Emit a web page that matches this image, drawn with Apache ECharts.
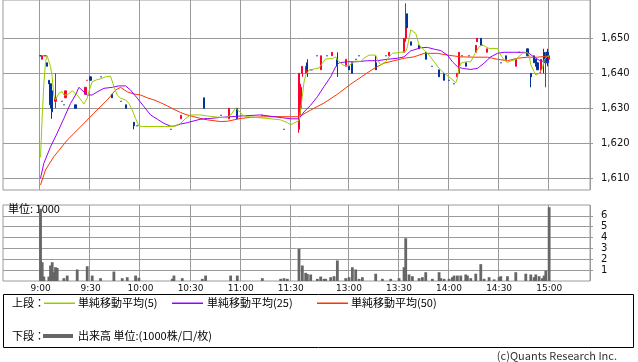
<!DOCTYPE html>
<html><head><meta charset="utf-8">
<script src="https://cdn.jsdelivr.net/npm/echarts@6/dist/echarts.min.js"></script>
<style>html,body{margin:0;padding:0;background:#fff}#c{width:638px;height:362px}</style>
</head><body><div id="c"></div>
<script>
// ---- data ----
const tickLabels = ['9:00','9:30','10:00','10:30','11:00','11:30','13:00','13:30','14:00','14:30','15:00'];
// axis slots (minutes): morning block incl. padding/lunch gap, afternoon block incl. padding
const slotRanges = [['8:38','11:34'],['12:30','15:24']];
const priceTicks = [1610,1620,1630,1640,1650];
const volumeTicks = [1,2,3,4,5,6];

// [time, open, close, low, high]
const candles = [
['9:00',1645,1645,1645,1645],['9:01',1644,1645,1644,1645],['9:02',1645,1645,1645,1645],['9:03',1645,1645,1645,1645],
['9:04',1643,1642,1642,1643],['9:05',1638,1637,1637,1638],['9:06',1637,1631,1630,1637],['9:07',1635,1629,1627,1636],
['9:09',1632,1633,1630,1640],['9:13',1632,1632,1632,1632],['9:14',1631,1631,1631,1631],['9:15',1633,1635,1633,1635],
['9:21',1631,1630,1630,1631],['9:27',1634,1636,1634,1636],['9:28',1638,1638,1638,1638],['9:30',1639,1638,1638,1639],
['9:36',1639,1639,1639,1639],['9:43',1634,1633,1633,1634],['9:48',1632,1632,1632,1632],['9:51',1631,1630,1630,1631],
['9:56',1626,1625,1624,1626],['9:58',1625,1625,1625,1625],['10:18',1624,1624,1624,1624],['10:24',1627,1628,1627,1628],
['10:36',1627,1627,1627,1627],['10:38',1633,1630,1630,1633],['10:39',1627,1627,1627,1627],['10:48',1628,1628,1628,1628],
['10:53',1627,1630,1627,1630],['10:58',1630,1627,1627,1630],['11:13',1628,1628,1628,1628],['11:26',1624,1624,1624,1624],
['12:30',1624,1640,1623,1640],['12:31',1630,1636,1628,1637],['12:32',1640,1642,1639,1642],['12:34',1640,1642,1640,1642],
['12:35',1643,1641,1639,1644],['12:37',1641,1641,1641,1641],['12:38',1641,1641,1641,1641],['12:41',1645,1645,1645,1645],
['12:43',1641,1645,1641,1645],['12:47',1645,1645,1645,1645],['12:50',1645,1646,1645,1646],['12:53',1644,1642,1639,1646],
['12:58',1642,1644,1642,1644],['13:00',1642,1641,1641,1642],['13:02',1643,1640,1640,1643],['13:04',1644,1644,1644,1644],
['13:06',1645,1645,1645,1645],['13:16',1643,1641,1641,1645],['13:22',1645,1645,1645,1645],['13:24',1645,1646,1645,1646],
['13:33',1646,1650,1646,1650],['13:34',1650,1654,1649,1660],['13:35',1657,1653,1653,1657],['13:37',1649,1648,1648,1649],
['13:42',1648,1647,1647,1648],['13:46',1646,1644,1644,1646],['13:50',1642,1642,1642,1642],['13:54',1641,1639,1639,1641],
['13:57',1640,1638,1638,1640],['14:00',1638,1638,1638,1638],['14:03',1637,1637,1637,1637],['14:05',1639,1640,1639,1640],
['14:06',1640,1646,1640,1646],['14:08',1645,1645,1645,1645],['14:10',1643,1642,1642,1643],['14:12',1645,1645,1645,1645],
['14:16',1646,1648,1646,1648],['14:17',1649,1650,1649,1650],['14:19',1650,1648,1648,1650],['14:20',1648,1648,1648,1648],
['14:23',1646,1647,1646,1647],['14:31',1643,1643,1643,1643],['14:34',1645,1644,1644,1645],['14:40',1642,1644,1642,1644],
['14:42',1646,1646,1646,1646],['14:47',1647,1645,1645,1647],['14:49',1640,1639,1636,1640],['14:51',1645,1643,1643,1645],
['14:52',1644,1642,1642,1644],['14:53',1643,1641,1641,1643],['14:55',1641,1644,1640,1644],['14:57',1646,1643,1640,1647],
['14:58',1643,1646,1636,1646],['14:59',1646,1643,1642,1647],['15:00',1644,1645,1644,1645]
];

const volumes = [
['9:00',6.65],['9:01',1.73],['9:02',0.41],['9:05',0.41],['9:06',1.43],['9:07',1.73],['9:08',0.81],['9:09',1.27],['9:10',1.2],
['9:14',0.26],['9:16',0.5],['9:22',1.06],['9:28',1.36],['9:31',0.5],['9:36',0.26],['9:44',0.87],['9:49',0.26],['9:52',0.35],
['9:57',0.5],['9:59',0.3],['10:19',0.2],['10:20',0.5],['10:25',0.26],['10:37',0.2],['10:39',0.5],['10:54',0.5],['10:58',0.5],
['11:13',0.26],['11:24',0.2],['11:26',0.26],['11:28',0.2],
['12:30',2.96],['12:32',1.43],['12:34',0.75],['12:35',0.64],['12:37',0.6],['12:41',0.2],['12:43',0.41],['12:45',0.2],['12:46',0.2],
['12:49',0.35],['12:51',0.44],['12:53',1.89],['12:58',0.26],['13:00',0.35],['13:02',1.27],['13:04',1.06],['13:06',0.2],['13:08',0.35],
['13:16',0.67],['13:20',0.2],['13:25',0.2],['13:30',0.26],['13:33',1.27],['13:34',3.94],['13:36',0.6],['13:38',0.44],['13:42',0.26],
['13:44',0.35],['13:46',0.81],['13:50',0.2],['13:54',0.81],['13:55',0.26],['13:57',0.2],['14:00',0.2],['14:02',0.35],['14:03',0.5],
['14:05',0.5],['14:07',0.5],['14:10',0.6],['14:11',0.5],['14:13',0.26],['14:16',0.67],['14:19',1.55],['14:21',0.2],['14:24',0.35],
['14:27',0.15],['14:30',0.35],['14:31',0.44],['14:35',0.44],['14:40',0.81],['14:46',0.67],['14:49',0.6],['14:51',0.35],['14:52',0.6],
['14:54',0.44],['14:56',0.26],['14:57',0.5],['14:58',0.96],['15:00',6.8]
];

const ma5 = [
['9:00',1616],['9:01',1627.6],['9:02',1637],['9:03',1643.3],['9:04',1645],['9:05',1644.9],['9:06',1641.9],['9:07',1639],['9:08',1633.5],
['9:09',1632.4],['9:11',1634.3],['9:13',1634.8],['9:14',1633.8],['9:16',1633.8],['9:19',1635],['9:20',1635.4],['9:22',1633.8],['9:25',1631.9],
['9:26',1631.2],['9:28',1632.9],['9:29',1634.8],['9:31',1637.6],['9:34',1638.2],['9:36',1638.4],['9:39',1639],['9:42',1639.2],['9:43',1639],
['9:44',1636.2],['9:46',1633.8],['9:48',1632.9],['9:51',1632.4],['9:53',1631.4],['9:55',1629.5],['9:57',1627.1],['9:59',1624.9],['10:01',1624.8],
['10:20',1624.8],['10:24',1625.7],['10:27',1627.1],['10:30',1628.1],['10:36',1628.1],['10:40',1627.8],['10:44',1627.6],['10:48',1627.4],
['10:52',1627.3],['10:54',1628.1],['10:57',1630],['10:58',1630],['11:00',1628.8],['11:01',1628.1],['11:04',1627.6],['11:16',1627.1],
['11:24',1626.7],['11:28',1625.9],['11:30',1625.3],
['12:30',1626.5],['12:31',1629.5],['12:32',1633.5],['12:33',1637.5],['12:34',1639.5],['12:36',1640.9],['12:39',1641.2],['12:42',1641.5],
['12:44',1642.9],['12:46',1644.1],['12:50',1644.2],['12:52',1644.7],['12:53',1643.8],['12:55',1642.9],['12:57',1642.2],['13:00',1642.2],
['13:02',1642.9],['13:04',1643.5],['13:07',1643.4],['13:09',1644.3],['13:12',1645.2],['13:16',1645.2],['13:17',1643.8],['13:19',1642.4],
['13:20',1642.2],['13:22',1643.3],['13:24',1644.7],['13:26',1645.7],['13:31',1646],['13:34',1646.2],['13:35',1647.6],['13:37',1652.4],
['13:38',1652.6],['13:40',1651.4],['13:42',1648.1],['13:45',1646.7],['13:48',1645.2],['13:51',1643.3],['13:54',1641.4],['13:57',1640],
['14:01',1638.6],['14:04',1637.3],['14:05',1638.6],['14:06',1641.4],['14:07',1642.9],['14:10',1643.3],['14:13',1643.3],['14:15',1645.2],
['14:18',1647.6],['14:20',1648.1],['14:22',1647.6],['14:24',1647.1],['14:29',1647.1],['14:31',1645.2],['14:33',1643.8],['14:35',1643.1],
['14:37',1643.5],['14:40',1644],['14:44',1645.7],['14:47',1645.9],['14:48',1645.2],['14:49',1642.4],['14:51',1640.5],['14:52',1639.5],
['14:54',1640],['14:56',1641.4],['14:57',1643.8],['14:59',1644.9],['15:00',1644.9]
];

const ma25 = [
['9:00',1610],['9:02',1614.3],['9:06',1619],['9:10',1622.9],['9:14',1627.1],['9:18',1631.4],['9:21',1633.8],['9:23',1636],['9:26',1634.7],
['9:28',1633.8],['9:31',1633.8],['9:34',1634.7],['9:38',1635.7],['9:43',1636],['9:47',1636.4],['9:51',1636.4],['9:54',1635.2],['9:58',1632.9],
['10:02',1630.5],['10:06',1628.1],['10:10',1626.9],['10:14',1625.7],['10:18',1624.9],['10:20',1624.9],['10:24',1625.5],['10:28',1625.9],
['10:32',1626.4],['10:36',1626.9],['10:42',1627.1],['10:48',1627.4],['11:00',1627.8],['11:12',1628.1],['11:20',1627.6],['11:25',1627.3],
['11:30',1627],
['12:30',1627],['12:33',1629],['12:37',1630.9],['12:41',1633.3],['12:45',1636.2],['12:49',1639],['12:52',1641.9],['12:54',1643],
['12:59',1643.3],['13:05',1643.3],['13:11',1643.6],['13:17',1643.6],['13:23',1644],['13:29',1644.3],['13:33',1644.7],['13:37',1646.4],
['13:43',1647.3],['13:47',1647.4],['13:51',1646.9],['13:55',1646.5],['13:59',1645.2],['14:02',1643.3],['14:05',1641.9],['14:08',1641.4],
['14:13',1641.1],['14:17',1641.4],['14:21',1642.9],['14:25',1644.7],['14:29',1645.7],['14:33',1646],['14:39',1646],['14:45',1646],
['14:48',1645.7],['14:51',1644.6],['14:55',1643.5],['14:59',1643.3],['15:00',1643.3]
];

const ma50 = [
['9:00',1608.1],['9:03',1612.4],['9:08',1616.2],['9:16',1620.9],['9:24',1624.7],['9:32',1628.6],['9:40',1632.4],['9:45',1635.2],['9:48',1636],
['9:52',1634.7],['9:56',1634.1],['10:00',1633.8],['10:04',1633],['10:08',1632.4],['10:12',1631.6],['10:16',1630.7],['10:20',1629.7],
['10:24',1628.8],['10:28',1628.1],['10:32',1627.6],['10:36',1627.1],['10:40',1626.7],['10:48',1626.2],['10:52',1626.3],['11:00',1627.1],
['11:06',1627.4],['11:16',1627.6],['11:30',1627.6],
['12:30',1627.6],['12:37',1629.5],['12:45',1631.5],['12:53',1634],['13:01',1636.9],['13:09',1639.5],['13:15',1641.4],['13:21',1642.9],
['13:27',1643.6],['13:33',1644.3],['13:39',1644.7],['13:45',1645.7],['13:53',1645.7],['13:59',1645.2],['14:07',1644.7],['14:15',1644.6],
['14:23',1644.6],['14:29',1644],['14:35',1643.6],['14:41',1644.3],['14:47',1644.6],['14:53',1644.6],['14:59',1644.9],['15:00',1644.9]
];

// ---- build axis categories ----
function toMin(t){const p=t.split(':');return (+p[0])*60+(+p[1]);}
function fmt(m){return Math.floor(m/60)+':'+String(m%60).padStart(2,'0');}
const cats=[];
slotRanges.forEach(r=>{for(let m=toMin(r[0]);m<=toMin(r[1]);m++)cats.push(fmt(m));});
const idx={}; cats.forEach((c,i)=>idx[c]=i);
const tickSet=new Set(tickLabels);

const candleData=cats.map(()=>['-','-','-','-']);
candles.forEach(c=>{candleData[idx[c[0]]]=[c[1],c[2],c[3],c[4]];});
const volData=cats.map(()=>'-');
volumes.forEach(v=>{volData[idx[v[0]]]=v[1];});
function lineData(arr){const d=cats.map(()=>null);arr.forEach(p=>{d[idx[p[0]]]=p[1];});return d;}

const gridColor='#9a9a9a';
const UP='#ff0033', DOWN='#003399';
const C5='#99cc00', C25='#9900ff', C50='#ff3300';
const jp='"Noto Sans CJK JP"';
const FT='11px '+jp;

const chart=echarts.init(document.getElementById('c'),null,{renderer:'canvas'});
const catAxisBase={type:'category',data:cats,boundaryGap:true,axisLine:{show:false},axisTick:{show:false},
  splitLine:{show:true,interval:(i,v)=>tickSet.has(v),lineStyle:{color:gridColor,width:1}}};
function txt(x,y,s,extra){return {type:'text',x:x,y:y,style:Object.assign({text:s,font:FT,fill:'#000',verticalAlign:'middle',textVerticalAlign:'middle'},extra||{})};}
function swatch(x,y,w,h,c){return {type:'rect',shape:{x:x,y:y,width:w,height:h},style:{fill:c}};}
chart.setOption({
  animation:false,
  backgroundColor:'#fff',
  grid:[
    {left:3,top:0,width:587,height:190,show:true,borderColor:gridColor,borderWidth:1,backgroundColor:'transparent'},
    {left:3,top:205,width:587,height:76,show:true,borderColor:gridColor,borderWidth:1,backgroundColor:'transparent'}
  ],
  xAxis:[
    Object.assign({},catAxisBase,{gridIndex:0,axisLabel:{show:false}}),
    Object.assign({},catAxisBase,{gridIndex:1,axisLabel:{show:true,interval:(i,v)=>tickSet.has(v),margin:3,
      fontFamily:'DejaVu Sans',fontSize:9,color:'#111'}})
  ],
  yAxis:[
    {type:'value',gridIndex:0,position:'right',min:1606.66,max:1660.94,
     axisLine:{show:false},
     axisTick:{show:true,length:3,customValues:priceTicks,lineStyle:{color:gridColor}},
     axisLabel:{customValues:priceTicks,margin:11,fontFamily:'DejaVu Sans',fontSize:10,color:'#111',
       formatter:v=>String(v).replace(/\B(?=(\d{3})+(?!\d))/g,',')},
     splitLine:{show:true,lineStyle:{color:gridColor,width:1}}},
    {type:'value',gridIndex:1,position:'right',min:0,max:7,interval:1,
     axisLine:{show:false},
     axisTick:{show:true,length:3,customValues:volumeTicks,lineStyle:{color:gridColor}},
     axisLabel:{customValues:volumeTicks,margin:11,fontFamily:'DejaVu Sans',fontSize:10,color:'#111',lineHeight:10},
     splitLine:{show:true,lineStyle:{color:gridColor,width:1}}}
  ],
  series:[
    {type:'candlestick',xAxisIndex:0,yAxisIndex:0,data:candleData,barWidth:1.6,z:2,
     itemStyle:{color:UP,color0:DOWN,borderColor:UP,borderColor0:DOWN,borderWidth:1}},
    {type:'line',xAxisIndex:0,yAxisIndex:0,data:lineData(ma50),connectNulls:true,showSymbol:false,z:3,
     lineStyle:{color:C50,width:1}},
    {type:'line',xAxisIndex:0,yAxisIndex:0,data:lineData(ma25),connectNulls:true,showSymbol:false,z:3,
     lineStyle:{color:C25,width:1}},
    {type:'line',xAxisIndex:0,yAxisIndex:0,data:lineData(ma5),connectNulls:true,showSymbol:false,z:4,
     lineStyle:{color:C5,width:1}},
    {type:'bar',xAxisIndex:1,yAxisIndex:1,data:volData,barWidth:2.8,z:2,itemStyle:{color:'#666666'}}
  ],
  graphic:[
    txt(8,209,'単位: 1000'),
    {type:'rect',shape:{x:3.5,y:294.5,width:630,height:53},style:{fill:'none',stroke:'#000',lineWidth:1}},
    txt(12,303,'上段：'),
    swatch(44,302.5,31,1.5,C5),
    txt(78,303,'単純移動平均(5)'),
    swatch(172,302.5,31,1.5,C25),
    txt(207,303,'単純移動平均(25)'),
    swatch(317,302.5,31,1.5,C50),
    txt(351,303,'単純移動平均(50)'),
    txt(12,336,'下段：'),
    swatch(43,334,30,4,'#666666'),
    txt(78,336,'出来高 単位:(1000株/口/枚)'),
    txt(617,356,'(c)Quants Research Inc.',{fill:'#333',align:'right',textAlign:'right'})
  ]
});
</script></body></html>
